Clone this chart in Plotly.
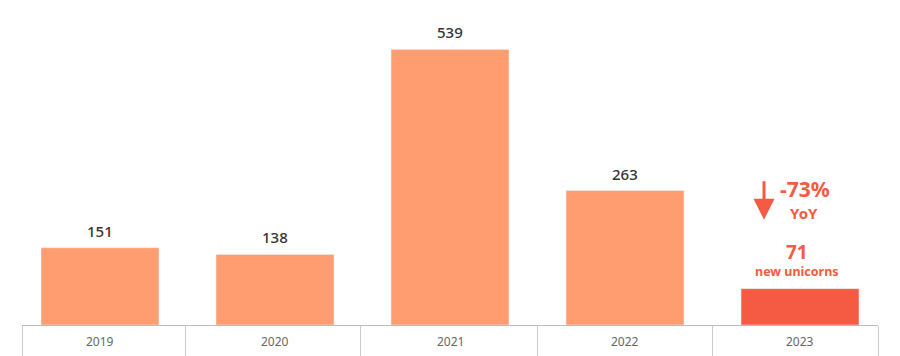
import plotly.graph_objects as go

years = ["2019", "2020", "2021", "2022", "2023"]
unicorns = [151, 138, 539, 263, 71]
bar_colors = ["#FF9D71", "#FF9D71", "#FF9D71", "#FF9D71", "#F55A42"]
yoy_label = "-73%"
yoy_sub = "YoY"
last_sub = "new unicorns"

FONT = "Noto Sans"
RED = "#F55A42"
x = list(range(len(years)))

fig = go.Figure()
fig.add_trace(go.Bar(x=x, y=unicorns, marker_color=bar_colors, width=0.674,
                     hoverinfo="skip"))

annotations = []
for i, v in enumerate(unicorns[:-1]):
    annotations.append(dict(x=i, y=v, text=str(v), showarrow=False, yanchor="middle",
                            yshift=17, font=dict(family=FONT, size=15, color="#333333", weight=500)))
last = len(unicorns) - 1
annotations.append(dict(x=last, y=unicorns[last], text=str(unicorns[last]), showarrow=False,
                        yanchor="middle", yshift=37, xshift=-3,
                        font=dict(family=FONT, size=19, color=RED, weight=700)))
annotations.append(dict(x=last, y=unicorns[last], text=last_sub, showarrow=False,
                        yanchor="middle", yshift=17, xshift=-3,
                        font=dict(family=FONT, size=12.5, color=RED, weight=700)))
# YoY annotation
annotations.append(dict(x=last, y=unicorns[last], text=yoy_label, showarrow=False,
                        yanchor="middle", yshift=100, xshift=5,
                        font=dict(family=FONT, size=21, color=RED, weight=700)))
annotations.append(dict(x=last, y=unicorns[last], text=yoy_sub, showarrow=False,
                        yanchor="middle", yshift=76, xshift=4,
                        font=dict(family=FONT, size=15, color=RED, weight=700)))
annotations.append(dict(x=last, y=unicorns[last], text="", showarrow=True,
                        xshift=-36, yshift=69, ax=0, ay=-40,
                        arrowhead=2, arrowwidth=3, arrowsize=1.4, arrowcolor=RED))
# year labels
for i, yr in enumerate(years):
    annotations.append(dict(x=i, y=0, yref="paper", text=yr, showarrow=False,
                            yanchor="middle", yshift=-16,
                            font=dict(family=FONT, size=12, color="#666666")))

fig.update_layout(
    width=892, height=348,
    margin=dict(l=14, r=22, t=2, b=31),
    paper_bgcolor="white", plot_bgcolor="white",
    showlegend=False,
    annotations=annotations,
    xaxis=dict(range=[-0.4457, 4.4457], showgrid=False, zeroline=False, automargin=False,
               showline=True, linecolor="#bbbbbb", linewidth=1,
               tickmode="array", tickvals=[-0.4457, 0.487, 1.49, 2.5, 3.5, 4.4457],
               ticktext=[""] * 6, ticks="outside", ticklen=31, tickcolor="#cccccc",
               fixedrange=True),
    yaxis=dict(range=[0, 616], visible=False, fixedrange=True, automargin=False),
)

fig.write_html("out.html")
